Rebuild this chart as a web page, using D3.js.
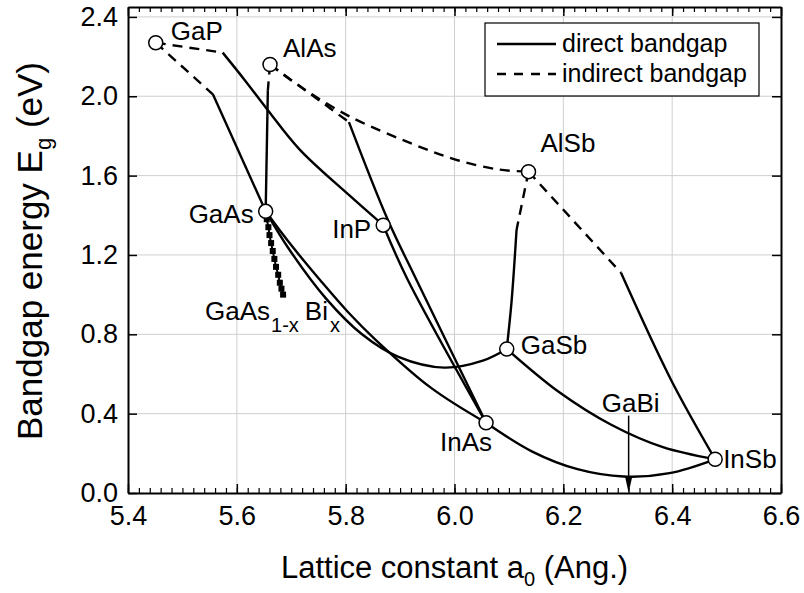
<!DOCTYPE html>
<html>
<head>
<meta charset="utf-8">
<script src="https://cdn.jsdelivr.net/npm/d3@7"></script>
<style>
  body { margin: 0; background: #fff; }
  svg { font-family: "Liberation Sans", Arial, sans-serif; }
</style>
</head>
<body>
<div id="chart"></div>
<script>
// Binary compounds: lattice constant a0 (Ang.) and bandgap Eg (eV)
const binaries = ['GaP', 'AlAs', 'GaAs', 'InP', 'AlSb', 'GaSb', 'InAs', 'InSb'];
const binaryA  = [5.451, 5.661, 5.653, 5.869, 6.136, 6.096, 6.058, 6.479];
const binaryEg = [2.27, 2.16, 1.42, 1.35, 1.62, 0.726, 0.354, 0.17];

// Ternary alloys as [a0, Eg]
// indirect (dashed) parts
const gaAsP_ind  = [[5.451, 2.27], [5.556, 2.01]];
const gaInP_ind  = [[5.451, 2.27], [5.574, 2.22]];
const alGaAs_ind = [[5.661, 2.16], [5.657, 2.03]];
const alAsSb_ind = [[5.661, 2.16], [5.716, 2.05], [5.806, 1.90], [5.941, 1.74], [6.009, 1.675], [6.083, 1.63], [6.136, 1.62]];
const alInAs_ind = [[5.661, 2.16], [5.806, 1.87]];
const alGaSb_ind = [[6.136, 1.62], [6.114, 1.326]];
const alInSb_ind = [[6.136, 1.62], [6.306, 1.11]];
// direct (solid) parts
const gaAsP_dir  = [[5.556, 2.01], [5.653, 1.42]];
const gaInP_dir  = [[5.574, 2.22], [5.615, 2.08], [5.657, 1.93], [5.716, 1.73], [5.807, 1.50], [5.869, 1.35]];
const alGaAs_dir = [[5.657, 2.03], [5.653, 1.42]];
const alInAs_dir = [[5.806, 1.87], [5.877, 1.38], [5.930, 1.075], [6.058, 0.354]];
const inAsP      = [[5.869, 1.35], [5.914, 1.075], [6.058, 0.354]];
const inGaAs     = [[5.653, 1.42], [5.694, 1.27], [5.754, 1.07], [5.805, 0.91], [5.856, 0.77], [5.957, 0.53], [6.058, 0.354]];
const gaAsSb     = [[5.653, 1.42], [5.697, 1.225], [5.764, 0.98], [5.830, 0.80], [5.897, 0.686], [5.981, 0.632], [6.052, 0.667], [6.096, 0.726]];
const inAsSb     = [[6.058, 0.354], [6.142, 0.21], [6.226, 0.12], [6.311, 0.083], [6.395, 0.10], [6.479, 0.17]];
const gaInSb     = [[6.096, 0.726], [6.192, 0.509], [6.288, 0.344], [6.383, 0.231], [6.479, 0.17]];
const alGaSb_dir = [[6.114, 1.326], [6.105, 0.97], [6.096, 0.726]];
const alInSb_dir = [[6.306, 1.11], [6.398, 0.57], [6.479, 0.17]];

// GaAs(1-x)Bi(x) measured points
const gaAsBiA  = [5.655, 5.658, 5.660, 5.663, 5.666, 5.669, 5.672, 5.676, 5.679, 5.682, 5.685];
const gaAsBiEg = [1.38, 1.34, 1.30, 1.26, 1.22, 1.18, 1.14, 1.10, 1.06, 1.03, 1.00];

// GaBi marker (lattice constant, arrow top)
const gaBiA = 6.32;
const gaBiTop = 0.39;

const xTicks = [5.4, 5.6, 5.8, 6.0, 6.2, 6.4, 6.6];
const yTicks = [0.0, 0.4, 0.8, 1.2, 1.6, 2.0, 2.4];

// label placement relative to the circle (px)
const labelPos = {
  GaP:  {dx: 15,  dy: -3,  anchor: 'start'},
  AlAs: {dx: 13,  dy: -8,  anchor: 'start'},
  GaAs: {dx: -12, dy: 12,  anchor: 'end'},
  InP:  {dx: -12, dy: 13,  anchor: 'end'},
  AlSb: {dx: 12,  dy: -20, anchor: 'start'},
  GaSb: {dx: 14,  dy: 5,   anchor: 'start'},
  InAs: {dx: 6,   dy: 28,  anchor: 'end'},
  InSb: {dx: 8,   dy: 9,   anchor: 'start'}
};

const W = 804, H = 593;
const margin = {top: 7, right: 23, bottom: 100, left: 128};

const svg = d3.select('#chart').append('svg')
  .attr('width', W).attr('height', H);

const x = d3.scaleLinear().domain([5.4, 6.6]).range([margin.left, W - margin.right]);
const y = d3.scaleLinear().domain([0, 2.45]).range([H - margin.bottom, margin.top]);

// gridlines
const grid = svg.append('g').attr('stroke', '#cfcfcf').attr('stroke-width', 1);
grid.selectAll('.gx').data(xTicks.slice(1, -1)).join('line')
  .attr('x1', d => x(d)).attr('x2', d => x(d))
  .attr('y1', y.range()[0]).attr('y2', y.range()[1]);
grid.selectAll('.gy').data(yTicks.slice(1)).join('line')
  .attr('y1', d => y(d)).attr('y2', d => y(d))
  .attr('x1', x.range()[0]).attr('x2', x.range()[1]);

// curves
const line = d3.line().x(d => x(d[0])).y(d => y(d[1])).curve(d3.curveCatmullRom.alpha(0.5));

const dashed = [gaAsP_ind, gaInP_ind, alGaAs_ind, alAsSb_ind, alInAs_ind, alGaSb_ind, alInSb_ind];
const solid = [gaAsP_dir, gaInP_dir, alGaAs_dir, alInAs_dir, inAsP, inGaAs, gaAsSb, inAsSb, gaInSb, alGaSb_dir, alInSb_dir];

svg.append('g').selectAll('path').data(dashed).join('path')
  .attr('d', line)
  .attr('fill', 'none').attr('stroke', '#000').attr('stroke-width', 2.4)
  .attr('stroke-dasharray', '10,7');

svg.append('g').selectAll('path').data(solid).join('path')
  .attr('d', line)
  .attr('fill', 'none').attr('stroke', '#000').attr('stroke-width', 2.4);

// GaAsBi
const bi = gaAsBiA.map((a, i) => [a, gaAsBiEg[i]]);
svg.append('path').datum(bi)
  .attr('d', d3.line().x(d => x(d[0])).y(d => y(d[1])))
  .attr('fill', 'none').attr('stroke', '#000').attr('stroke-width', 2);
svg.append('g').selectAll('rect').data(bi).join('rect')
  .attr('x', d => x(d[0]) - 3).attr('y', d => y(d[1]) - 3)
  .attr('width', 6).attr('height', 6).attr('fill', '#000');

// GaBi arrow
svg.append('line')
  .attr('x1', x(gaBiA)).attr('x2', x(gaBiA))
  .attr('y1', y(gaBiTop)).attr('y2', y(0) - 10)
  .attr('stroke', '#000').attr('stroke-width', 1.5);
svg.append('path')
  .attr('d', `M${x(gaBiA) - 3.5},${y(0) - 16}L${x(gaBiA) + 3.5},${y(0) - 16}L${x(gaBiA)},${y(0)}Z`)
  .attr('fill', '#000');
svg.append('text')
  .attr('x', x(gaBiA) + 2).attr('y', y(gaBiTop) - 4)
  .attr('text-anchor', 'middle').style('font-size', '26px')
  .text('GaBi');

// binary circles + labels
const pts = binaries.map((n, i) => ({name: n, a: binaryA[i], eg: binaryEg[i]}));
svg.append('g').selectAll('circle').data(pts).join('circle')
  .attr('cx', d => x(d.a)).attr('cy', d => y(d.eg)).attr('r', 7)
  .attr('fill', '#fff').attr('stroke', '#000').attr('stroke-width', 1.5);
svg.append('g').selectAll('text').data(pts).join('text')
  .attr('x', d => x(d.a) + labelPos[d.name].dx)
  .attr('y', d => y(d.eg) + labelPos[d.name].dy)
  .attr('text-anchor', d => labelPos[d.name].anchor)
  .style('font-size', '26px')
  .text(d => d.name);

// GaAs1-xBix label
const biLabel = svg.append('text').attr('x', 205).attr('y', 320).style('font-size', '26px');
biLabel.append('tspan').text('GaAs');
biLabel.append('tspan').attr('dy', 12).attr('dx', 1).style('font-size', '20px').text('1-x');
biLabel.append('tspan').attr('dy', -12).attr('dx', 6).text('Bi');
biLabel.append('tspan').attr('dy', 12).attr('dx', 2).style('font-size', '20px').text('x');

// axes
const xMinor = d3.range(0, 61).map(i => 5.4 + i * 0.02);
const axisStyle = g => {
  g.select('.domain').attr('stroke-width', 2);
  g.selectAll('.tick line').attr('stroke-width', 1.5);
  g.selectAll('text').style('font-size', '27px').attr('fill', '#000');
};

svg.append('g').attr('transform', `translate(0,${y(0)})`)
  .call(d3.axisBottom(x).tickValues(xMinor).tickSize(-5).tickSizeOuter(0).tickFormat(''))
  .call(g => g.select('.domain').remove())
  .call(g => g.selectAll('line').attr('stroke-width', 1.2));
svg.append('g').attr('transform', `translate(0,${y.range()[1]})`)
  .call(d3.axisTop(x).tickValues(xMinor).tickSize(-5).tickSizeOuter(0).tickFormat(''))
  .call(g => g.select('.domain').remove())
  .call(g => g.selectAll('line').attr('stroke-width', 1.2));

svg.append('g').attr('transform', `translate(0,${y(0)})`)
  .call(d3.axisBottom(x).tickValues(xTicks).tickSize(-9).tickSizeOuter(0).tickPadding(13).tickFormat(d3.format('.1f')))
  .call(axisStyle);
svg.append('g').attr('transform', `translate(0,${y.range()[1]})`)
  .call(d3.axisTop(x).tickValues(xTicks).tickSize(-9).tickSizeOuter(0).tickFormat(''))
  .call(axisStyle);
svg.append('g').attr('transform', `translate(${x(5.4)},0)`)
  .call(d3.axisLeft(y).tickValues(yTicks).tickSize(-9).tickSizeOuter(0).tickPadding(10).tickFormat(d3.format('.1f')))
  .call(axisStyle);
svg.append('g').attr('transform', `translate(${x(6.6)},0)`)
  .call(d3.axisRight(y).tickValues(yTicks).tickSize(-9).tickSizeOuter(0).tickFormat(''))
  .call(axisStyle);

// axis titles
const xt = svg.append('text').attr('x', (x(5.4) + x(6.6)) / 2).attr('y', 578)
  .attr('text-anchor', 'middle').style('font-size', '31px');
xt.append('tspan').text('Lattice constant a');
xt.append('tspan').attr('dy', 8).style('font-size', '20px').text('0');
xt.append('tspan').attr('dy', -8).text(' (Ang.)');

const yt = svg.append('text').attr('transform', 'translate(42,251) rotate(-90)')
  .attr('text-anchor', 'middle').style('font-size', '35px');
yt.append('tspan').text('Bandgap energy E');
yt.append('tspan').attr('dy', 9).style('font-size', '22px').text('g');
yt.append('tspan').attr('dy', -9).text(' (eV)');

// legend
const lg = svg.append('g');
lg.append('rect').attr('x', 485).attr('y', 23).attr('width', 274).attr('height', 73)
  .attr('fill', '#fff').attr('stroke', '#000').attr('stroke-width', 1.2);
lg.append('line').attr('x1', 497).attr('x2', 556).attr('y1', 44).attr('y2', 44)
  .attr('stroke', '#000').attr('stroke-width', 2.4);
lg.append('line').attr('x1', 497).attr('x2', 556).attr('y1', 74).attr('y2', 74)
  .attr('stroke', '#000').attr('stroke-width', 2.4).attr('stroke-dasharray', '9,8');
lg.append('text').attr('x', 562).attr('y', 52).style('font-size', '25px').text('direct bandgap');
lg.append('text').attr('x', 562).attr('y', 82).style('font-size', '25px').text('indirect bandgap');
</script>
</body>
</html>
